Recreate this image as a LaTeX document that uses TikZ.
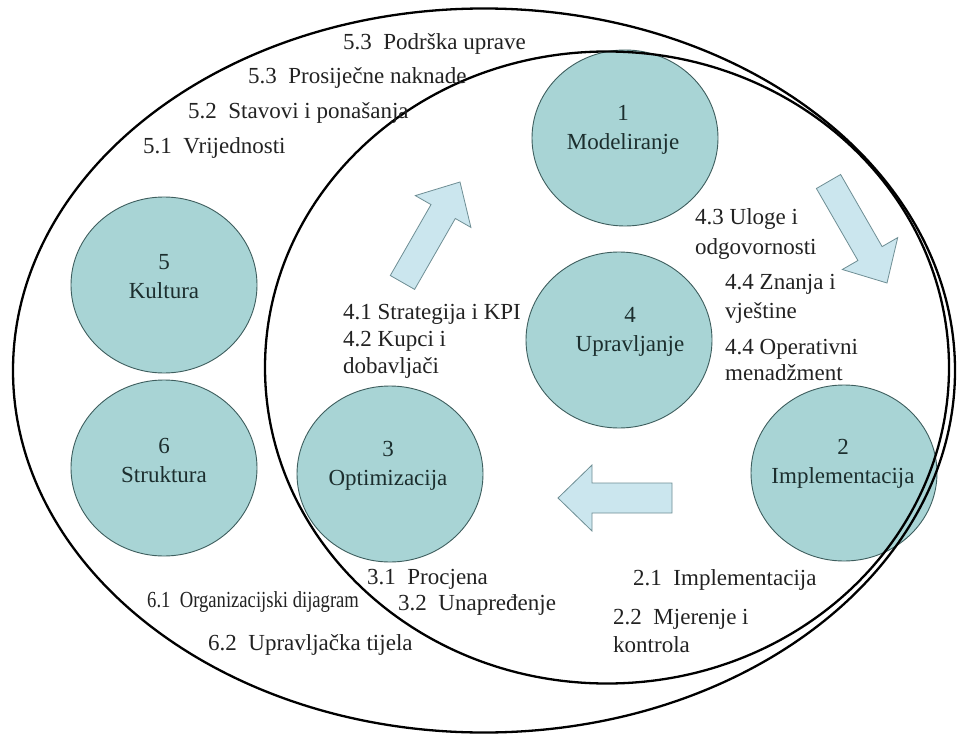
\documentclass[tikz,border=0pt]{standalone}
\usepackage{fontspec}
\setmainfont{Liberation Serif}
\usetikzlibrary{shapes.geometric}
\definecolor{bubfill}{HTML}{A8D4D5}
\definecolor{bubdraw}{HTML}{3E5E5E}
\definecolor{arrfill}{HTML}{CBE6EE}
\definecolor{arrdraw}{HTML}{6E8E94}
\definecolor{txt}{HTML}{222222}
\definecolor{ctxt}{HTML}{1C2E2E}
\begin{document}
\begin{tikzpicture}[x=1pt,y=-1pt,
  bub/.style={ellipse, draw=bubdraw, line width=0.9pt, fill=bubfill,
    minimum width=186pt, minimum height=176pt, inner sep=0pt},
  ctext/.style={align=center, font=\fontsize{23}{29}\selectfont, text=ctxt, inner sep=0pt},
  lbl/.style={anchor=base west, inner sep=0pt, font=\fontsize{23}{29}\selectfont, text=txt},
  ring/.style={draw=black, line width=2.3pt},
  blockarrow/.style={fill=arrfill, draw=arrdraw, line width=0.8pt, line join=miter}]
\useasboundingbox (0,0) rectangle (957,735);
\fill[white] (0,0) rectangle (957,735);

% bubbles
\node[bub] (c1) at (625,138) {};
\node[bub] (c4) at (619,340) {};
\node[bub] (c5) at (164,285) {};
\node[bub] (c6) at (164,468) {};
\node[bub] (c3) at (390,474) {};
\node[bub] (c2) at (844,473) {};

\node[ctext] (t1) at (623,130) {1\\Modeliranje};
\node[ctext] (t4) at (630,332) {4\\Upravljanje};
\node[ctext] (t5) at (164,277) {5\\Kultura};
\node[ctext] (t6) at (164,460) {6\\Struktura};
\node[ctext] (t3) at (388,466) {3\\Optimizacija};
\node[ctext] (t2) at (843,464) {2\\Implementacija};

% block arrows
\draw[blockarrow] (390.3,275.5) -- (431.0,204.6) -- (415.3,195.6) -- (460,182)
  -- (470.9,227.4) -- (455.3,218.5) -- (414.6,289.4) -- cycle;
\draw[blockarrow] (840.6,174.5) -- (882.1,246.6) -- (897.7,237.6) -- (887,283)
  -- (842.3,269.5) -- (857.9,260.5) -- (816.4,188.5) -- cycle;
\draw[blockarrow] (672,483) -- (592,483) -- (592,465) -- (558,498)
  -- (592,531) -- (592,513) -- (672,513) -- cycle;

% rings
\draw[ring] (484,370.5) ellipse [x radius=471pt, y radius=362pt];
\draw[ring] (607,367.5) ellipse [x radius=342pt, y radius=316pt];

% labels
\node[lbl] (l53a) at (343,50) {5.3\enspace Podrška uprave};
\node[lbl] (l53b) at (248,84) {5.3\enspace Prosiječne naknade};
\node[lbl] (l52) at (188,119) {5.2\enspace Stavovi i ponašanja};
\node[lbl] (l51) at (143,154) {5.1\enspace Vrijednosti};

\node[lbl] (l41) at (343,319) {4.1 Strategija i KPI};
\node[lbl] (l42a) at (343,346) {4.2 Kupci i};
\node[lbl] (l42b) at (343,373) {dobavljači};

\node[lbl] (l43a) at (695,225) {4.3 Uloge i};
\node[lbl] (l43b) at (695,254) {odgovornosti};
\node[lbl] (l44a) at (725,289) {4.4 Znanja i};
\node[lbl] (l44b) at (725,318) {vještine};
\node[lbl] (l44c) at (725,354) {4.4 Operativni};
\node[lbl] (l44d) at (725,380) {menadžment};

\node[lbl] (l31) at (367,584) {3.1\enspace Procjena};
\node[lbl] (l32) at (398,610) {3.2\enspace Unapređenje};

\node[lbl] (l61) at (147,607) {\scalebox{0.81}[1]{6.1\enspace Organizacijski dijagram}};
\node[lbl] (l62) at (208,650) {6.2\enspace Upravljačka tijela};

\node[lbl] (l21) at (633,585) {2.1\enspace Implementacija};
\node[lbl] (l22a) at (613,624) {2.2\enspace Mjerenje i};
\node[lbl] (l22b) at (613,652) {kontrola};
\end{tikzpicture}
\end{document}
